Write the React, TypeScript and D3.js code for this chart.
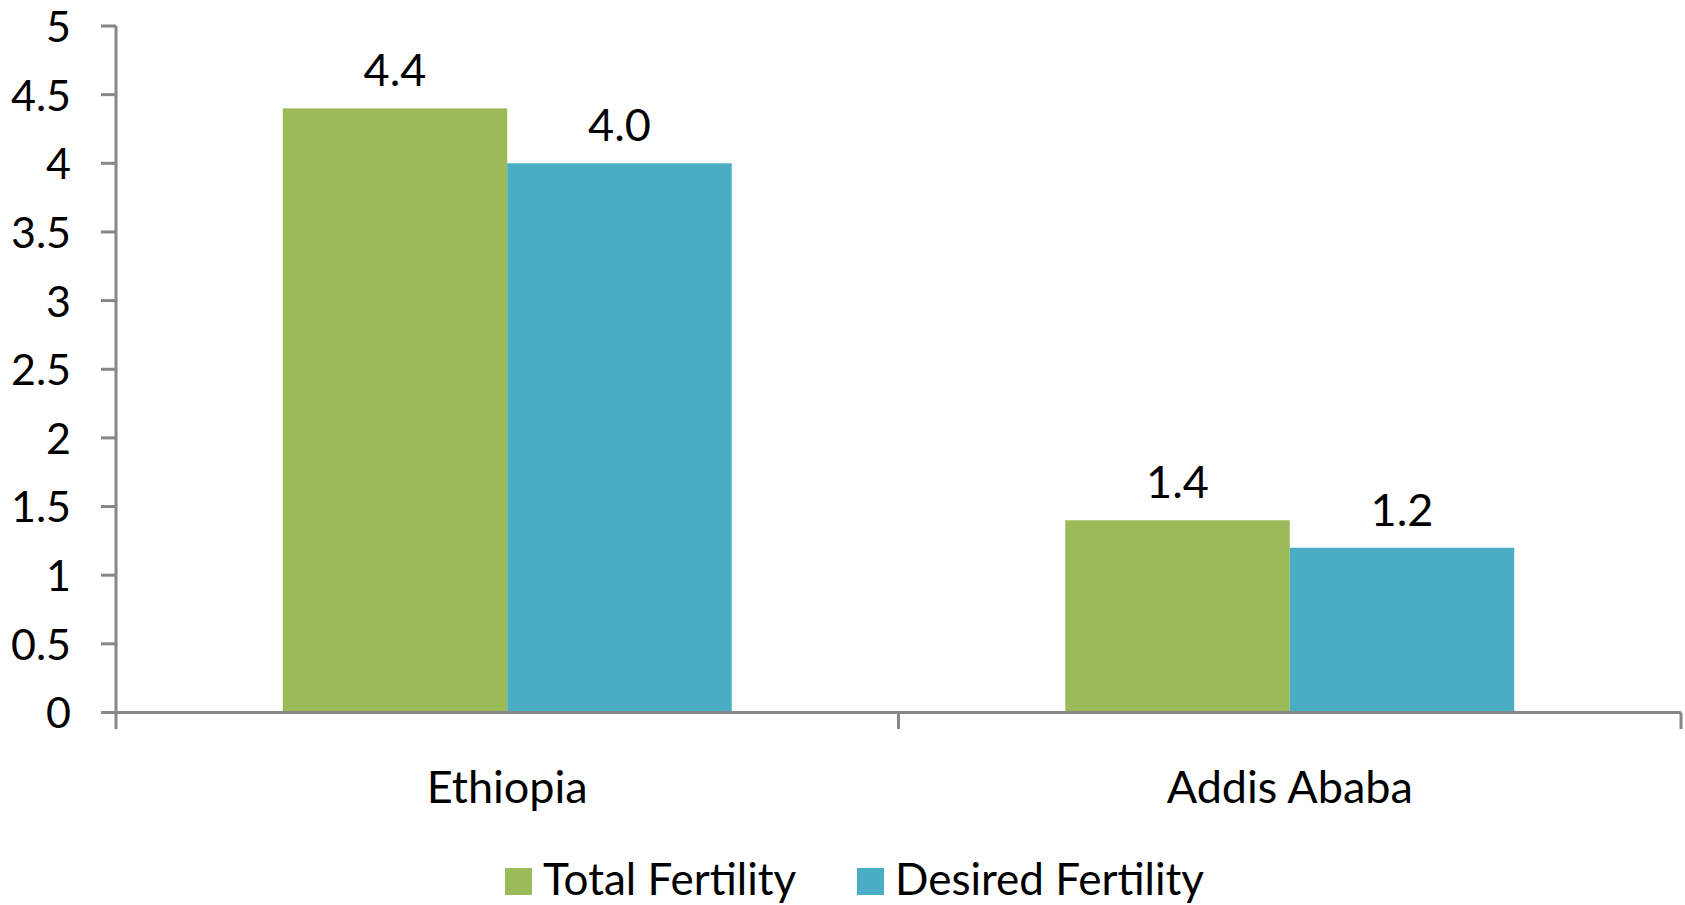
import { useMemo } from "react";
import { scaleBand, scaleLinear, range } from "d3";

const categories = ["Ethiopia", "Addis Ababa"];
const seriesNames = ["Total Fertility", "Desired Fertility"];
const totalFertility = [4.4, 1.4];
const desiredFertility = [4.0, 1.2];
const yTicks = [0, 0.5, 1, 1.5, 2, 2.5, 3, 3.5, 4, 4.5, 5];

const colors = ["#9BBB59", "#4BACC6"];
const axisColor = "#878787";
const font = "Lato, 'Open Sans', sans-serif";

const width = 1685;
const height = 905;
const left = 116;
const right = 1681;
const top = 26;
const bottom = 712.5;

export default function App() {
  const values = [totalFertility, desiredFertility];

  const y = useMemo(() => scaleLinear().domain([0, 5]).range([bottom, top]), []);
  const x0 = useMemo(
    () => scaleBand<string>().domain(categories).range([left, right]).paddingInner(0).paddingOuter(0),
    []
  );
  const x1 = useMemo(
    () =>
      scaleBand<string>()
        .domain(seriesNames)
        .range([0, x0.bandwidth()])
        .paddingInner(0)
        .paddingOuter(0.743),
    [x0]
  );

  const catTicks = range(categories.length + 1).map((i) => left + i * x0.step());

  return (
    <div style={{ position: "absolute", left: 0, top: 0 }}>
      <svg width={width} height={height} style={{ display: "block", background: "#fff" }}>
        {/* bars + value labels */}
        {categories.map((c, ci) => (
          <g key={c} transform={`translate(${x0(c)},0)`}>
            {seriesNames.map((s, si) => {
              const v = values[si][ci];
              const bx = x1(s)!;
              return (
                <g key={s}>
                  <rect x={bx} y={y(v)} width={x1.bandwidth()} height={y(0) - y(v)} fill={colors[si]} />
                  <text
                    x={bx + x1.bandwidth() / 2}
                    y={y(v) - 22}
                    textAnchor="middle"
                    fontFamily={font}
                    fontSize={45}
                    fill="#000"
                  >
                    {v.toFixed(1)}
                  </text>
                </g>
              );
            })}
          </g>
        ))}

        {/* y axis */}
        <line x1={left} x2={left} y1={top} y2={bottom} stroke={axisColor} strokeWidth={3} />
        {yTicks.map((t) => (
          <g key={t}>
            <line x1={left - 15} x2={left} y1={y(t)} y2={y(t)} stroke={axisColor} strokeWidth={3} />
            <text
              x={71}
              y={y(t)}
              dy="0.37em"
              textAnchor="end"
              fontFamily={font}
              fontSize={43}
              fill="#000"
            >
              {t}
            </text>
          </g>
        ))}

        {/* x axis */}
        <line x1={left} x2={right} y1={bottom} y2={bottom} stroke={axisColor} strokeWidth={3} />
        {catTicks.map((tx, i) => (
          <line key={i} x1={tx} x2={tx} y1={bottom} y2={729} stroke={axisColor} strokeWidth={3} />
        ))}
        {categories.map((c) => (
          <text
            key={c}
            x={x0(c)! + x0.bandwidth() / 2}
            y={803}
            textAnchor="middle"
            fontFamily={font}
            fontSize={45}
            fill="#000"
          >
            {c}
          </text>
        ))}

        {/* legend */}
        {seriesNames.map((s, i) => {
          const lx = [505, 857][i];
          return (
            <g key={s}>
              <rect x={lx} y={868} width={27} height={27} fill={colors[i]} />
              <text x={lx + 38} y={895} fontFamily={font} fontSize={44} fill="#000">
                {s}
              </text>
            </g>
          );
        })}
      </svg>
    </div>
  );
}
